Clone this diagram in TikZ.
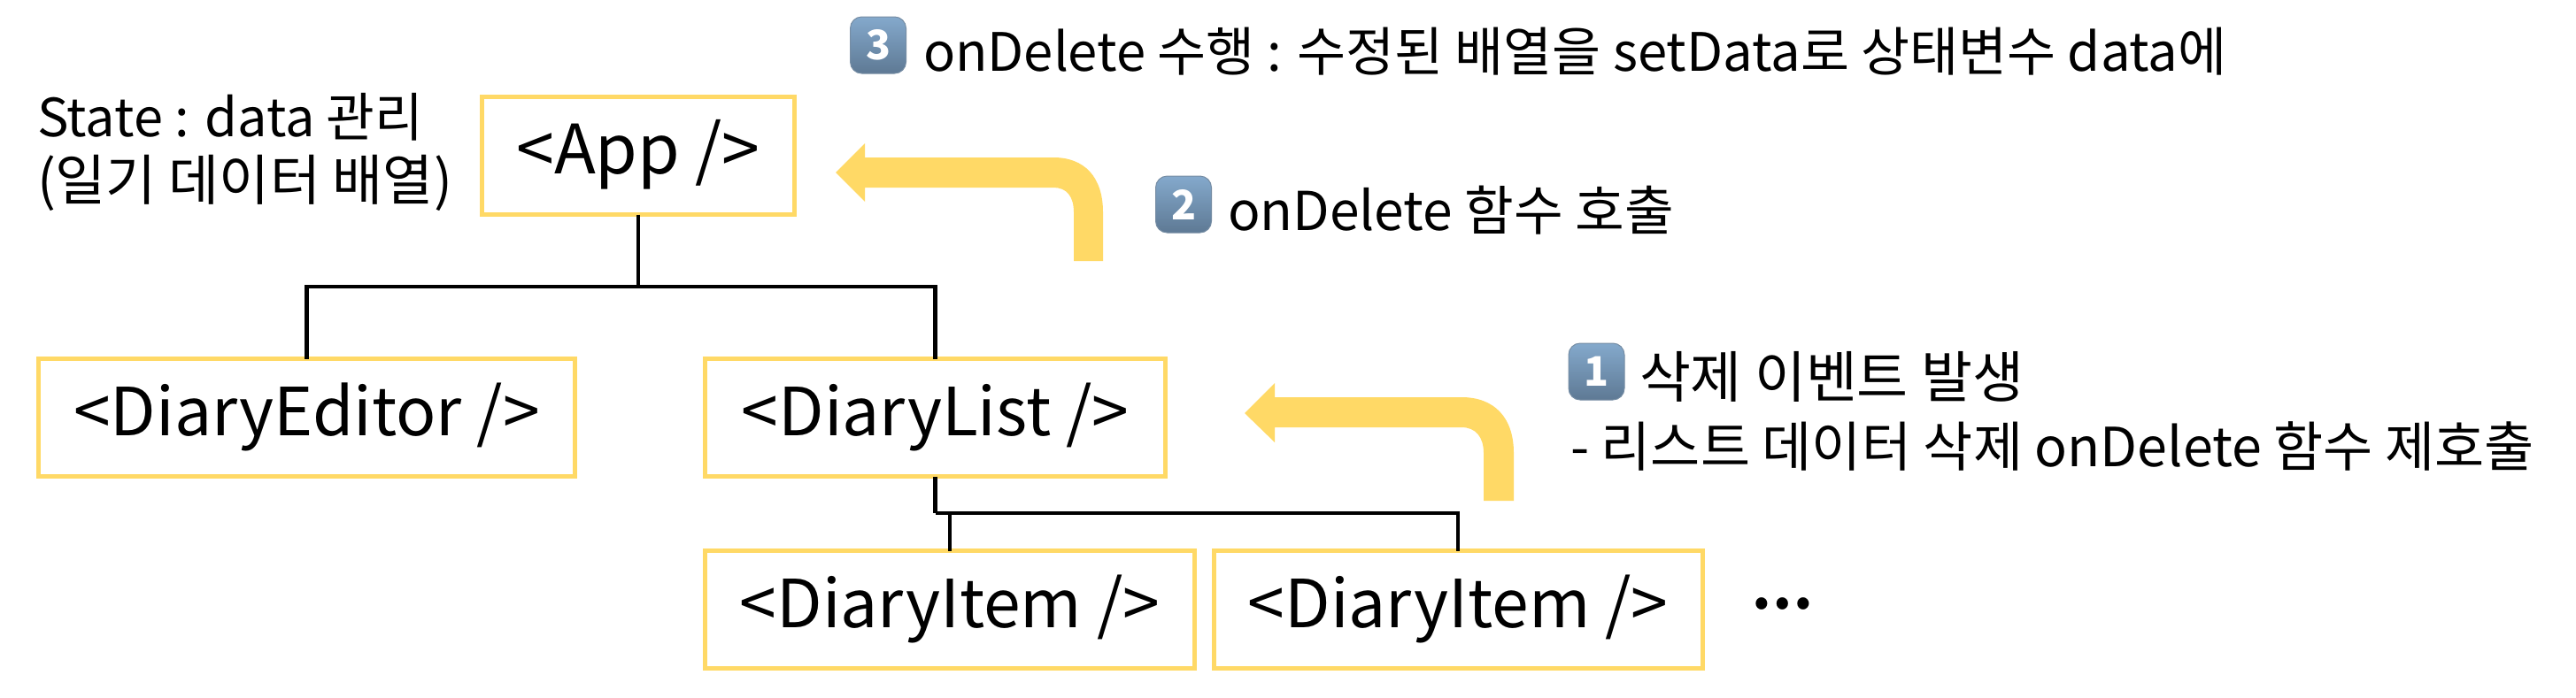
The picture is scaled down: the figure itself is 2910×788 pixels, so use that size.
\documentclass[tikz,border=0pt]{standalone}
\usepackage{fontspec}
\setmainfont{Noto Sans CJK KR}
\definecolor{amber}{HTML}{FFD966}
\definecolor{key1}{HTML}{84A9CC}
\definecolor{key2}{HTML}{5E7994}
\newcommand{\fsz}[1]{\fontsize{#1}{#1}\selectfont}
\tikzset{
  x=1pt,y=-1pt,
  compbox/.style={draw=amber,line width=5pt,fill=white,outer sep=0pt,inner sep=0pt,text height=62pt,text depth=22pt,font=\fsz{75}},
  tree/.style={draw=black,line width=4.5pt,line cap=butt},
  flow/.style={fill=amber,draw=none},
  keycap/.style={rounded corners=13pt,minimum width=63pt,minimum height=64pt,inner sep=0pt,outer sep=0pt,top color=key1,bottom color=key2,draw=key2!85!white,line width=1pt,text=white,font=\fsz{46}\bfseries},
  label/.style={anchor=base west,inner sep=0pt,outer sep=0pt},
}
\begin{document}
\begin{tikzpicture}
\useasboundingbox (0,0) rectangle (2910,788);
\fill[white] (0,0) rectangle (2910,788);
\node[compbox,font=\fsz{77},minimum width=353pt,minimum height=133pt] (app) at (721,176) {<App />\hspace{6pt}};
\node[compbox,minimum width=606pt,minimum height=133pt] (editor) at (346.5,472) {<DiaryEditor />\hspace{8pt}};
\node[compbox,minimum width=520pt,minimum height=133pt] (list) at (1056.5,472) {<DiaryList />\hspace{4pt}};
\node[compbox,minimum width=553pt,minimum height=133pt] (item1) at (1073,689) {<DiaryItem />\hspace{4pt}};
\node[compbox,minimum width=552pt,minimum height=133pt] (item2) at (1647,689) {<DiaryItem />\hspace{4pt}};
\node[anchor=base,inner sep=0pt,font=\fsz{62}\bfseries] (more) at (2013,688) {…};
\coordinate (bus) at (721,324);
\coordinate (bus2) at (1056.5,580);
\draw[tree] (app.south) -- (bus);
\draw[tree] (editor.north) -- (editor.north |- bus) -- (list.north |- bus) -- (list.north);
\draw[tree] (list.south) -- (bus2);
\draw[tree] (bus2) -- (item2.north |- bus2) -- (item2.north);
\draw[tree] (item1.north) -- (item1.north |- bus2);
\fill[flow] (944,195) -- (977,162) -- (977,178) -- (1190,178) .. controls (1225,178) and (1246,200) .. (1246,240) -- (1246,295) -- (1213,295) -- (1213,240) .. controls (1213,222) and (1205,212) .. (1190,212) -- (977,212) -- (977,228) -- cycle;
\fill[flow] (1406,467) -- (1440,433) -- (1440,449) -- (1651,449) .. controls (1688,449) and (1710,472) .. (1710,512) -- (1710,566) -- (1676,566) -- (1676,512) .. controls (1676,494) and (1667,483) .. (1651,483) -- (1440,483) -- (1440,500) -- cycle;
\node[label,font=\fsz{59.5}] (st1) at (42,154) {State : data 관리};
\node[label,font=\fsz{62}] (st2) at (42,226) {(일기 데이터 배열)};
\node[keycap] (k3) at (992,51) {3};
\node[label,font=\fsz{59.8}] (t3) at (1043,80) {onDelete 수행 : 수정된 배열을 setData로 상태변수 data에};
\node[keycap] (k2) at (1337,231) {2};
\node[label,font=\fsz{60.5}] (t2) at (1387,260) {onDelete 함수 호출};
\node[keycap] (k1) at (1803.5,420) {1};
\node[label,font=\fsz{63}] (t1) at (1852,449) {삭제 이벤트 발생};
\node[label,font=\fsz{61}] (t1b) at (1774,527) {- 리스트 데이터 삭제 onDelete 함수 제호출};
\end{tikzpicture}
\end{document}
